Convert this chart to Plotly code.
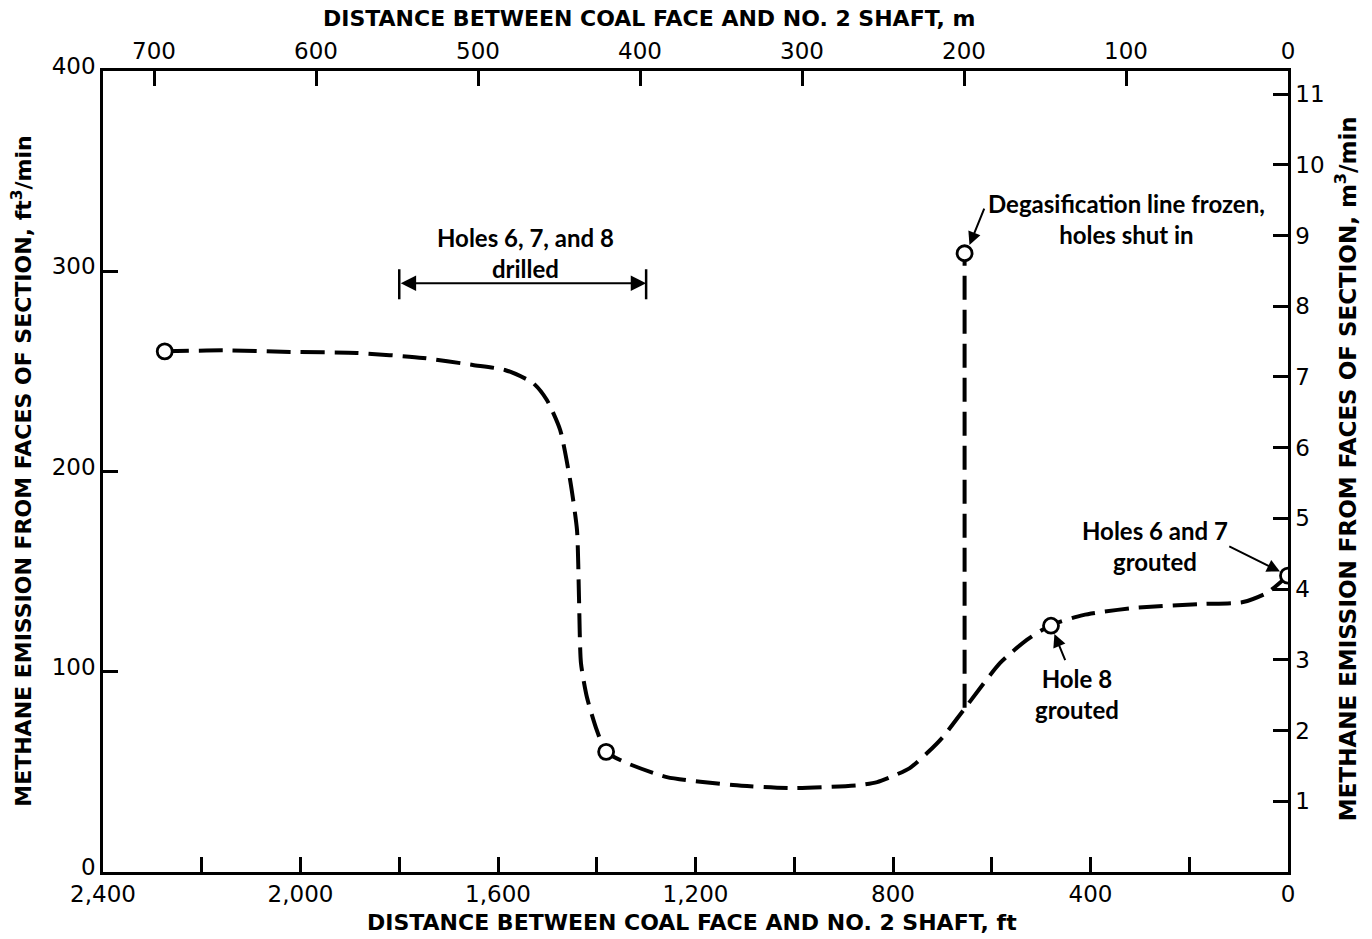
import plotly.graph_objects as go

# Methane emission (ft^3/min) versus distance between coal face and No. 2 shaft (ft)
distance_ft = [2275, 2157, 2021, 1886, 1752, 1651, 1586, 1529, 1501, 1474, 1454,
               1440, 1436, 1432, 1420, 1400, 1381, 1339, 1258, 1124, 1002, 867,
               832, 800, 766, 731, 699, 654, 583, 529, 480, 415, 314, 178, 91, 43, 0]
emission_cfm = [260, 260.5, 259.7, 259.2, 256.7, 253.2, 250.7, 244.2, 235.7, 220.7, 195.8,
                170.8, 137.3, 104.4, 87.4, 70.9, 60, 54.4, 47.4, 43.4, 41.9, 43.4,
                44.9, 47.9, 51.9, 59.4, 67.4, 81.9, 104.4, 115.9, 123.3, 128.3, 131.8, 133.8, 134.8, 139.3, 148]

# Spike when the degasification line froze
spike_ft = [655, 655]
spike_cfm = [82, 309]

# Observed points (open circles)
obs_ft = [2275, 1381, 655, 480, 0]
obs_cfm = [260, 60, 309, 123, 148]

# Drilling interval bracket
drill_ft = [1800, 1300]
drill_cfm = 294

# Axis ticks
x_ticks_ft = [2400, 2000, 1600, 1200, 800, 400, 0]
y_ticks_cfm = [0, 100, 200, 300, 400]
x_ticks_m = [700, 600, 500, 400, 300, 200, 100, 0]
y_ticks_cmm = [1, 2, 3, 4, 5, 6, 7, 8, 9, 10, 11]

FT_TO_M = 0.3048
CFM_TO_CMM = 0.0283168
X_MAX_FT = 2400
Y_MAX_CFM = 400

INK = "black"
TICK_FONT = dict(family="DejaVu Sans", size=23, color=INK)
TITLE_FONT = dict(family="DejaVu Sans", size=22, color=INK)
RIGHT_TITLE_FONT = dict(family="DejaVu Sans", size=23, color=INK)
NOTE_FONT = dict(family="Lato", size=24, color=INK)

dash_line = dict(color=INK, width=4, dash="24px,10px")

fig = go.Figure()
fig.add_trace(go.Scatter(x=distance_ft, y=emission_cfm, mode="lines",
                         line=dict(shape="spline", smoothing=0.6, **dash_line),
                         hoverinfo="skip", showlegend=False))
fig.add_trace(go.Scatter(x=spike_ft, y=spike_cfm, mode="lines", line=dash_line,
                         hoverinfo="skip", showlegend=False))
fig.add_trace(go.Scatter(x=obs_ft, y=obs_cfm, mode="markers",
                         marker=dict(size=15, color="white", line=dict(color=INK, width=2.8)),
                         hoverinfo="skip", showlegend=False))
# companion axes in metric units
fig.add_trace(go.Scatter(x=[], y=[], xaxis="x2", yaxis="y2", showlegend=False))

axis_common = dict(showgrid=False, zeroline=False, showline=True, linecolor=INK,
                   linewidth=2.5, ticks="inside", ticklen=15, tickwidth=2.5,
                   tickcolor=INK, tickfont=TICK_FONT)

fig.update_layout(
    width=1372, height=939,
    margin=dict(l=103, r=84, t=71, b=67),
    paper_bgcolor="white", plot_bgcolor="white",
    xaxis=dict(range=[X_MAX_FT, 0], tickvals=x_ticks_ft, tickformat=",d",
               minor=dict(dtick=200, ticks="inside", ticklen=15, tickwidth=2.5, tickcolor=INK),
               **axis_common),
    yaxis=dict(range=[0, Y_MAX_CFM], tickvals=y_ticks_cfm, ticklabelshift=-5, **axis_common),
    xaxis2=dict(range=[X_MAX_FT * FT_TO_M, 0], tickvals=x_ticks_m, overlaying="x",
                side="top", anchor="y", **axis_common),
    yaxis2=dict(range=[0, Y_MAX_CFM * CFM_TO_CMM], tickvals=y_ticks_cmm, overlaying="y",
                side="right", anchor="x", **axis_common),
)

# bracket end bars
for xf in drill_ft:
    fig.add_shape(type="line", xref="x", yref="y", x0=xf, x1=xf,
                  y0=drill_cfm - 8, y1=drill_cfm + 7, line=dict(color=INK, width=2.5))

annotations = [
    # axis titles
    dict(text="<b>DISTANCE BETWEEN COAL FACE AND NO. 2 SHAFT, ft</b>", xref="paper", yref="paper",
         x=0.497, y=-0.063, xanchor="center", yanchor="middle", showarrow=False, font=TITLE_FONT),
    dict(text="<b>DISTANCE BETWEEN COAL FACE AND NO. 2 SHAFT, m</b>", xref="paper", yref="paper",
         x=0.461, y=1.066, xanchor="center", yanchor="middle", showarrow=False, font=TITLE_FONT),
    dict(text="<b>METHANE EMISSION FROM FACES OF SECTION, ft<sup>3</sup>/min</b>", xref="paper",
         yref="paper", x=-0.069, y=0.5, xanchor="center", yanchor="middle", textangle=-90,
         showarrow=False, font=TITLE_FONT),
    dict(text="<b>METHANE EMISSION FROM FACES OF SECTION, m<sup>3</sup>/min</b>", xref="paper",
         yref="paper", x=1.049, y=0.503, xanchor="center", yanchor="middle", textangle=-90,
         showarrow=False, font=RIGHT_TITLE_FONT),
    # notes
    dict(text="<b>Holes 6, 7, and 8<br>drilled</b>", x=1545, y=309, xref="x", yref="y",
         showarrow=False, font=NOTE_FONT, align="center"),
    dict(text="<b>Degasification line frozen,<br>holes shut in</b>", x=328, y=326, xref="x", yref="y",
         showarrow=False, font=NOTE_FONT, align="center"),
    dict(text="<b>Holes 6 and 7<br>grouted</b>", x=269, y=163, xref="x", yref="y",
         showarrow=False, font=NOTE_FONT, align="center"),
    dict(text="<b>Hole 8<br>grouted</b>", x=427, y=89, xref="x", yref="y",
         showarrow=False, font=NOTE_FONT, align="center"),
    # arrows
    dict(x=drill_ft[1], y=drill_cfm, ax=drill_ft[0], ay=drill_cfm, xref="x", yref="y",
         axref="x", ayref="y", text="", showarrow=True, arrowhead=2, arrowside="end+start",
         arrowsize=1.4, arrowwidth=2.2, arrowcolor=INK),
    dict(x=652, y=309, ax=614, ay=332, xref="x", yref="y", axref="x", ayref="y", text="",
         showarrow=True, arrowhead=2, arrowsize=1.3, arrowwidth=2, arrowcolor=INK, standoff=9),
    dict(x=0, y=148, ax=122, ay=163, xref="x", yref="y", axref="x", ayref="y", text="",
         showarrow=True, arrowhead=2, arrowsize=1.3, arrowwidth=2, arrowcolor=INK, standoff=9),
    dict(x=480, y=123, ax=450, ay=105, xref="x", yref="y", axref="x", ayref="y", text="",
         showarrow=True, arrowhead=2, arrowsize=1.3, arrowwidth=2, arrowcolor=INK, standoff=9),
]
fig.update_layout(annotations=annotations)

fig.write_html("out.html")
